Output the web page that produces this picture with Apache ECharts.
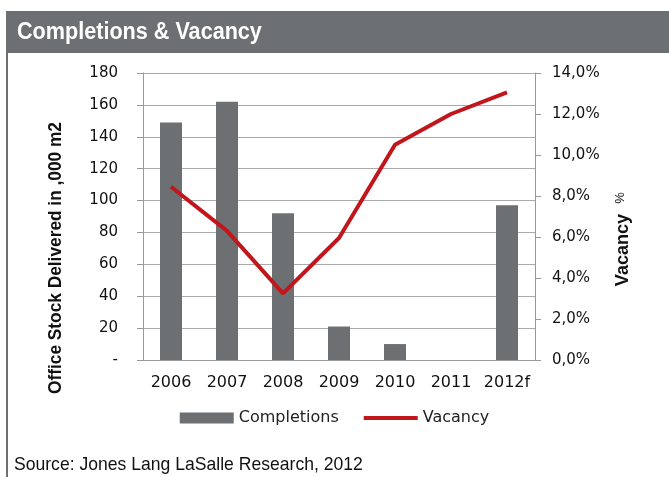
<!DOCTYPE html>
<html><head><meta charset="utf-8">
<script src="https://cdn.jsdelivr.net/npm/echarts@6/dist/echarts.min.js"></script>
<style>html,body{margin:0;padding:0;background:#fff}#c{width:669px;height:477px}</style>
</head><body><div id="c"></div>
<script>
const categories = ['2006','2007','2008','2009','2010','2011','2012f'];
const completions = [149, 162, 92, 21, 10, null, 97];
const vacancy = [8.45, 6.3, 3.25, 5.95, 10.5, 12.0, 13.05];

const chart = echarts.init(document.getElementById('c'), null, {renderer:'canvas'});
const grey = '#6d7073';
const lab = '"DejaVu Sans", sans-serif';
chart.setOption({
  animation:false,
  graphic:[
    {type:'rect', shape:{x:6,y:11,width:663,height:42}, style:{fill:grey}},
    {type:'rect', shape:{x:6,y:53,width:2,height:424}, style:{fill:grey}},
    {type:'text', x:17, y:32, scaleX:0.9, style:{text:'Completions & Vacancy', fill:'#fff', textVerticalAlign:'middle', font:'bold 24px "Liberation Sans", Arial, sans-serif'}},
    {type:'text', x:14, y:465, scaleX:0.925, style:{text:'Source: Jones Lang LaSalle Research, 2012', fill:'#111', textVerticalAlign:'middle', font:'19px "Liberation Sans", Arial, sans-serif'}},
    {type:'text', x:56, y:258, rotation:Math.PI/2, scaleX:0.91, style:{text:'Office Stock Delivered in ,000 m2', fill:'#111', textAlign:'center', textVerticalAlign:'middle', font:'bold 19px "Liberation Sans", Arial, sans-serif'}},
    {type:'text', x:623, y:250, rotation:Math.PI/2, scaleX:0.95, style:{text:'Vacancy', fill:'#111', textAlign:'center', textVerticalAlign:'middle', font:'bold 19px "Liberation Sans", Arial, sans-serif'}},
    {type:'text', x:620, y:198, rotation:Math.PI/2, style:{text:'%', fill:'#111', textAlign:'center', textVerticalAlign:'middle', font:'13px "Liberation Sans", Arial, sans-serif'}}
  ],
  legend:{
    top:405, left:'center', itemGap:25, itemWidth:54, itemHeight:11,
    textStyle:{fontSize:16, color:'#222', fontFamily:lab},
    data:[{name:'Completions', icon:'rect'}, {name:'Vacancy', icon:'path://M0,0L54,0L54,4L0,4Z'}]
  },
  grid:{left:143, right:134, top:73, bottom:117},
  xAxis:{type:'category', data:categories,
    axisLine:{lineStyle:{color:'#999'}}, axisTick:{show:false},
    axisLabel:{color:'#111', fontSize:16, fontFamily:lab, margin:15, interval:0}},
  yAxis:[
    {type:'value', min:0, max:180, interval:20,
      axisLine:{show:true, lineStyle:{color:'#999'}}, axisTick:{show:true, length:6, lineStyle:{color:'#999'}},
      splitLine:{lineStyle:{color:'#aaa'}},
      axisLabel:{color:'#111', fontSize:15, fontFamily:lab, margin:25,
        formatter:v=> v===0 ? '-' : String(v)}},
    {type:'value', min:0, max:14, interval:2,
      axisLine:{show:true, lineStyle:{color:'#999'}}, axisTick:{show:true, length:6, lineStyle:{color:'#999'}},
      splitLine:{show:false},
      axisLabel:{color:'#111', fontSize:15, fontFamily:lab, margin:17,
        formatter:v=> v.toFixed(1).replace('.',',')+'%'}}
  ],
  series:[
    {name:'Completions', type:'bar', data:completions, barWidth:22, itemStyle:{color:grey}},
    {name:'Vacancy', type:'line', yAxisIndex:1, data:vacancy, symbol:'none',
      lineStyle:{color:'#c0161c', width:4}, itemStyle:{color:'#c0161c'}}
  ]
});
</script></body></html>
